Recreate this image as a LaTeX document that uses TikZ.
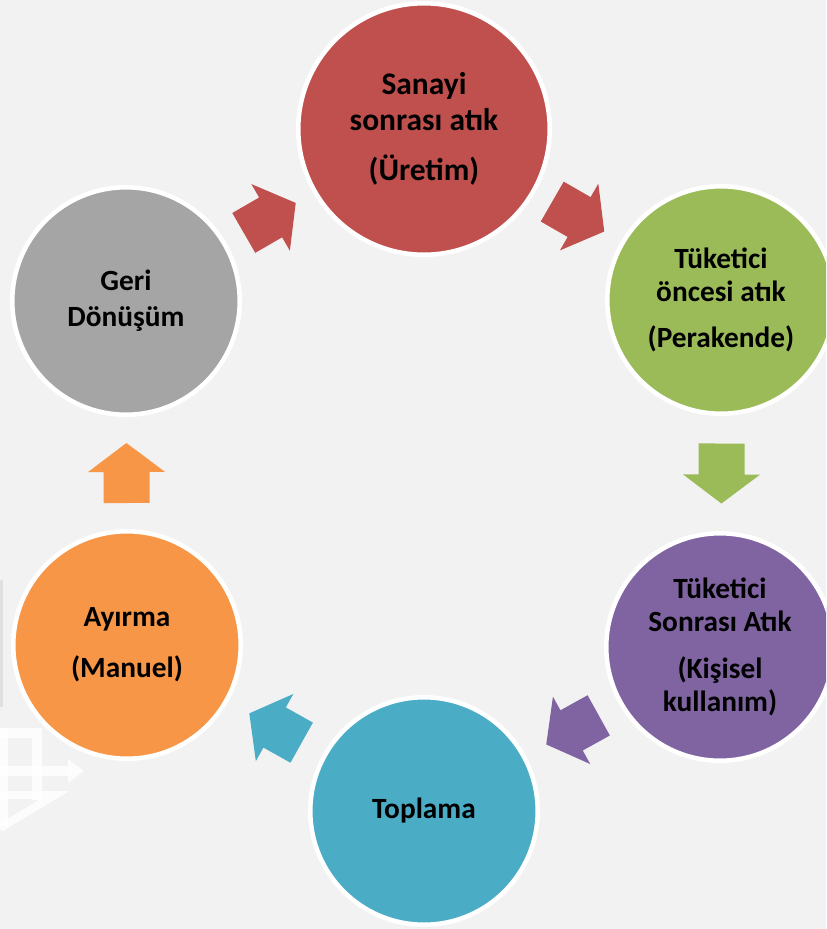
\documentclass[tikz,border=0pt]{standalone}
\usepackage{fontspec}
\setmainfont{Carlito}
\usetikzlibrary{calc}

\definecolor{sfondo}{HTML}{F2F2F2}
\definecolor{rosso}{HTML}{C0504D}
\definecolor{verde}{HTML}{9BBB59}
\definecolor{viola}{HTML}{8064A2}
\definecolor{azzurro}{HTML}{4BACC6}
\definecolor{arancio}{HTML}{F79646}
\definecolor{grigio}{HTML}{A5A5A5}

\tikzset{
  fase/.style={circle,draw=white,line width=3.4pt,minimum size=170.6pt,inner sep=0pt,align=center,
    font=\bfseries\fontsize{22}{25}\selectfont},
  freccia/.pic={\path[pic actions] (-30,-23) -- (1,-23) -- (1,-38.5) -- (30,0) -- (1,38.5) -- (1,23) -- (-30,23) -- cycle;}
}
% freccia a meta' strada fra i bordi di due cerchi
\newcommand{\collega}[3]{%
  \path let \p1=($(#2)-(#1)$), \n1={atan2(\y1,\x1)}, \n2={\n1+180} in
    ($(#1.\n1)!0.5!(#2.\n2)$) pic[rotate=\n1,fill=#3] {freccia};}

\begin{document}
\begin{tikzpicture}[x=0.75pt,y=-0.75pt]
      \useasboundingbox (0,0) rectangle (826,929);
      \clip (0,0) rectangle (826,929);
      \fill[sfondo] (0,0) rectangle (826,929);
      %resti dello sfondo
      \fill[black!12] (0,580) rectangle (2.5,707);
      \begin{scope}[white,line width=7pt,opacity=0.8]
        \draw (3,728) -- (3,826);
        \draw (0,733) -- (37,733) -- (37,800);
        \draw (0,771) -- (72,771);
        \fill (68,759) -- (84,771) -- (68,783) -- cycle;
        \draw[line width=6pt] (0,795) -- (55,795) -- (0,828);
      \end{scope}
      %cerchi
      \node[fase,fill=rosso,minimum size=188.6pt,font=\bfseries\fontsize{23.6}{27}\selectfont] (sanayi) at (424,129)
        {Sanayi\\sonrası atık\\[10.5pt](Üretim)};
      \node[fase,fill=verde] (oncesi) at (721,300) {Tüketici\\öncesi atık\\[9.5pt](Perakende)};
      \node[fase,fill=viola] (sonrasi) at (720,647) {Tüketici\\Sonrası Atık\\[10pt](Kişisel\\kullanım)};
      \node[fase,fill=azzurro] (toplama) at (424,811) {Toplama};
      \node[fase,fill=arancio] (ayirma) at (127,645) {Ayırma\\[13pt](Manuel)};
      \node[fase,fill=grigio] (geri) at (126,301) {Geri\\[2pt]Dönüşüm};
      %frecce
      \collega{geri}{sanayi}{rosso}
      \collega{sanayi}{oncesi}{rosso}
      \collega{oncesi}{sonrasi}{verde}
      \collega{sonrasi}{toplama}{viola}
      \collega{toplama}{ayirma}{azzurro}
      \collega{ayirma}{geri}{arancio}
\end{tikzpicture}
\end{document}
